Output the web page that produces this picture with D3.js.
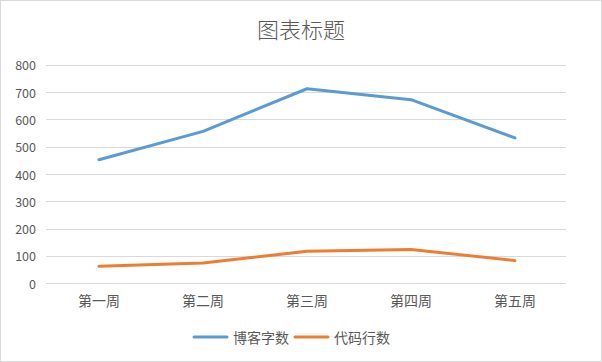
<!DOCTYPE html>
<html>
<head>
<meta charset="utf-8">
<script src="https://cdn.jsdelivr.net/npm/d3@7"></script>
<style>
  body { margin: 0; background: #fff; }
  svg text { font-family: "Noto Sans CJK SC", "Noto Sans", sans-serif; fill: #595959; }
</style>
</head>
<body>
<div id="chart"></div>
<script>
var categories = ["第一周", "第二周", "第三周", "第四周", "第五周"];
var blogWords = [452, 556, 712, 672, 532];
var codeLines = [62, 74, 117, 124, 83];
var seriesNames = ["博客字数", "代码行数"];
var yTicks = [0, 100, 200, 300, 400, 500, 600, 700, 800];

var width = 602, height = 362;
var colors = ["#5B9BD5", "#ED7D31"];

var svg = d3.select("#chart").append("svg")
  .attr("width", width)
  .attr("height", height);

svg.append("rect")
  .attr("x", 0.5).attr("y", 0.5)
  .attr("width", width - 1).attr("height", height - 1)
  .attr("fill", "#fff")
  .attr("stroke", "#d9d9d9");

svg.append("text")
  .attr("x", 301).attr("y", 28)
  .attr("text-anchor", "middle")
  .attr("dominant-baseline", "central")
  .style("font-size", "22px")
  .style("font-weight", 300)
  .text("图表标题");

var x = d3.scaleBand().domain(categories).range([47, 567]);
var y = d3.scaleLinear().domain([0, 800]).range([283.3, 64.7]);

// gridlines
svg.append("g").selectAll("line")
  .data(yTicks)
  .enter().append("line")
  .attr("x1", 46).attr("x2", 566)
  .attr("y1", function(d) { return Math.round(y(d)) + 0.5; })
  .attr("y2", function(d) { return Math.round(y(d)) + 0.5; })
  .attr("stroke", "#d9d9d9")
  .attr("stroke-width", 1);

// y labels
svg.append("g").selectAll("text")
  .data(yTicks)
  .enter().append("text")
  .attr("x", 36)
  .attr("y", function(d) { return y(d); })
  .attr("text-anchor", "end")
  .attr("dominant-baseline", "central")
  .style("font-size", "12.5px")
  .text(function(d) { return d; });

// x labels
svg.append("g").selectAll("text")
  .data(categories)
  .enter().append("text")
  .attr("x", function(d) { return x(d) + x.bandwidth() / 2; })
  .attr("y", 300)
  .attr("text-anchor", "middle")
  .attr("dominant-baseline", "central")
  .style("font-size", "14px")
  .text(function(d) { return d; });

var line = d3.line()
  .x(function(d, i) { return x(categories[i]) + x.bandwidth() / 2; })
  .y(function(d) { return y(d); });

[blogWords, codeLines].forEach(function(s, i) {
  svg.append("path")
    .datum(s)
    .attr("d", line)
    .attr("fill", "none")
    .attr("stroke", colors[i])
    .attr("stroke-width", 3)
    .attr("stroke-linecap", "round")
    .attr("stroke-linejoin", "round");
});

// legend
var legendX = [194, 295];
seriesNames.forEach(function(name, i) {
  var g = svg.append("g").attr("transform", "translate(" + legendX[i] + ",337)");
  g.append("line")
    .attr("x1", 0).attr("x2", 33)
    .attr("y1", 0).attr("y2", 0)
    .attr("stroke", colors[i])
    .attr("stroke-width", 3)
    .attr("stroke-linecap", "round");
  g.append("text")
    .attr("x", 39).attr("y", 0)
    .attr("dominant-baseline", "central")
    .style("font-size", "14px")
    .text(name);
});
</script>
</body>
</html>
